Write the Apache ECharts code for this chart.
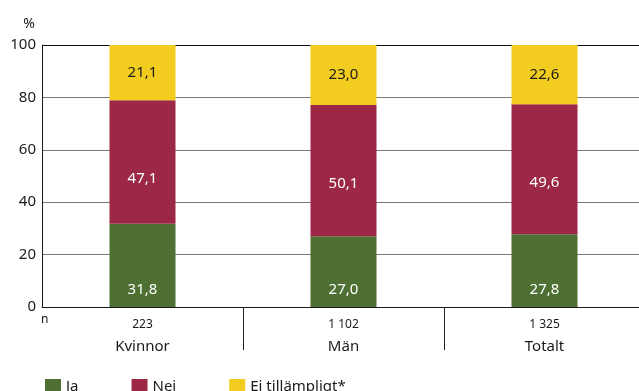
<!DOCTYPE html>
<html><head><meta charset="utf-8">
<script src="https://cdn.jsdelivr.net/npm/echarts@6/dist/echarts.min.js"></script>
<style>html,body{margin:0;padding:0;background:#fff}#c{width:639px;height:391px}</style>
</head><body><div id="c"></div>
<script>
const categories = ['Kvinnor', 'Män', 'Totalt'];
const nValues = ['223', '1 102', '1 325'];
const ja = [31.8, 27.0, 27.8];
const nej = [47.1, 50.1, 49.6];
const ejTillampligt = [21.1, 23.0, 22.6];
const yTicks = [0, 20, 40, 60, 80, 100];

const font = 'Noto Sans';
const fmt = p => p.value.toFixed(1).replace('.', ',');
const chart = echarts.init(document.getElementById('c'));
chart.setOption({
  animation: false,
  textStyle: { fontFamily: font },
  grid: { left: 42, width: 603, top: 45, bottom: 84, outerBoundsMode: 'none', containLabel: false },
  legend: {
    left: 40, top: 374, itemWidth: 16, itemHeight: 16, itemGap: 53, icon: 'rect',
    textStyle: { fontSize: 15, color: '#1a1a1a', fontFamily: font },
    data: ['Ja', 'Nej', 'Ej tillämpligt*']
  },
  graphic: [{ type: 'text', left: 41, top: 314, style: { text: 'n', fontSize: 12, fill: '#1a1a1a', fontFamily: font } }],
  xAxis: {
    type: 'category', data: categories,
    axisLine: { lineStyle: { color: '#1a1a1a', width: 1 } },
    axisTick: { show: true, length: 43, interval: (i) => i > 0, lineStyle: { color: '#222' } },
    axisLabel: {
      margin: 8,
      formatter: (v, i) => '{n|' + nValues[i] + '}\n{c|' + v + '}',
      rich: {
        n: { fontSize: 12, color: '#1a1a1a', lineHeight: 20, fontFamily: font },
        c: { fontSize: 15, color: '#1a1a1a', lineHeight: 24, fontFamily: font }
      }
    }
  },
  yAxis: {
    type: 'value', min: 0, max: 100, interval: 20,
    name: '%', nameLocation: 'end', nameGap: 14,
    nameTextStyle: { fontSize: 14, color: '#1a1a1a', align: 'right', padding: [0, 7, 0, 0], fontFamily: font },
    axisLine: { show: true, lineStyle: { color: '#1a1a1a' } },
    axisTick: { show: false },
    axisLabel: { fontSize: 15, color: '#1a1a1a', margin: 6, formatter: v => yTicks.includes(v) ? String(v) : '' },
    splitLine: { show: true, lineStyle: { color: ['#888', '#777', '#777', '#777', '#777', '#111'], width: 1 } }
  },
  series: [
    { name: 'Ja', type: 'bar', stack: 's', barWidth: 66, data: ja,
      itemStyle: { color: '#4e7133' },
      label: { show: true, position: 'insideBottom', distance: 10, color: '#fff', fontSize: 15, formatter: fmt } },
    { name: 'Nej', type: 'bar', stack: 's', data: nej,
      itemStyle: { color: '#9c2846' },
      label: { show: true, position: 'insideTop', distance: 71, color: '#fff', fontSize: 15, formatter: fmt } },
    { name: 'Ej tillämpligt*', type: 'bar', stack: 's', data: ejTillampligt,
      itemStyle: { color: '#f2cd1f' },
      label: { show: true, position: 'inside', color: '#1a1a1a', fontSize: 15, formatter: fmt } }
  ]
});
</script></body></html>
